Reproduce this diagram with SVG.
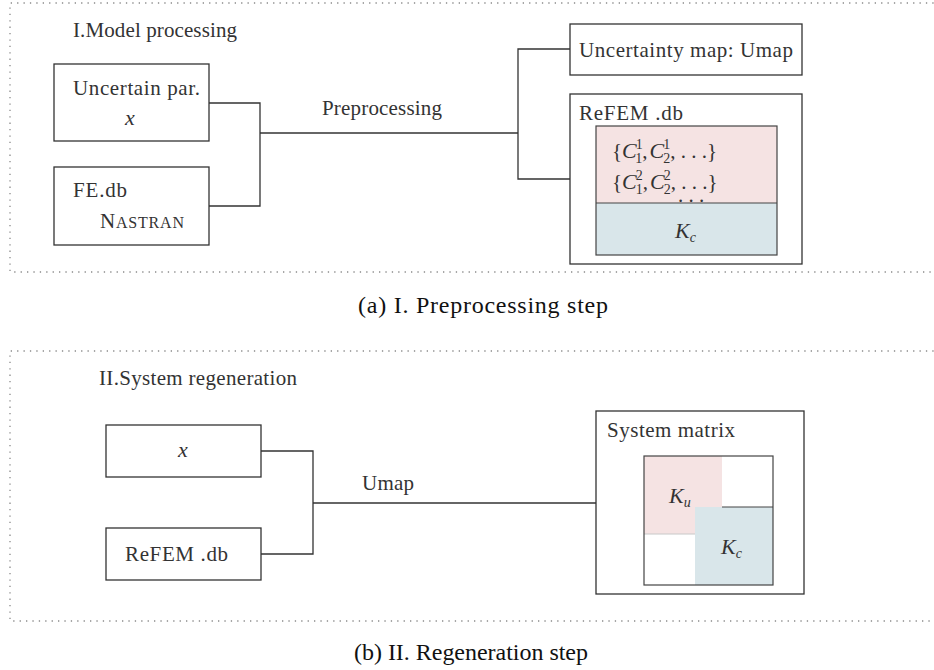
<svg xmlns="http://www.w3.org/2000/svg" width="934" height="670" viewBox="0 0 934 670">
  <style>
    .frame { fill: none; stroke: #8a8a8a; stroke-width: 1.3; stroke-dasharray: 1.3 5.1; }
    .box { fill: #ffffff; stroke: #333333; stroke-width: 1.3; }
    .wire { fill: none; stroke: #333333; stroke-width: 1.3; }
    .pink { fill: #f5e3e3; }
    .blue { fill: #d9e6ea; }
    .edge { fill: none; stroke: #444444; stroke-width: 1.2; }
    .t { font-family: "Liberation Serif", "Times New Roman", serif; font-size: 21px; fill: #333333; }
    .m { font-family: "Liberation Serif", "Times New Roman", serif; font-size: 22px; font-style: italic; fill: #333333; }
    .sub { font-size: 14px; }
    .cap { font-family: "Liberation Serif", "Times New Roman", serif; font-size: 24px; fill: #111111; }
  </style>

  <!-- Step I frame (open on the right) -->
  <path class="frame" d="M 940 3 H 10 V 272 H 940"/>
  <text class="t" x="73" y="37" textLength="164" lengthAdjust="spacing">I.Model processing</text>

  <g id="connectors">
    <!-- step I -->
    <path class="wire" d="M 209 103 H 260 V 206 H 209"/>
    <path class="wire" d="M 260 133 H 518"/>
    <path class="wire" d="M 570 49 H 518 V 179 H 570"/>
    <text class="t" x="322" y="115" textLength="120" lengthAdjust="spacing">Preprocessing</text>
    <!-- step II -->
    <path class="wire" d="M 261 451 H 313 V 554 H 261"/>
    <path class="wire" d="M 313 503 H 596"/>
    <text class="t" x="362" y="490" textLength="52" lengthAdjust="spacing">Umap</text>
  </g>

  <g id="uncertain-par">
    <rect class="box" x="54" y="64" width="155" height="77"/>
    <text class="t" x="73" y="95" textLength="127" lengthAdjust="spacing">Uncertain par.</text>
    <text class="m" x="125" y="125">x</text>
  </g>

  <g id="fe-db">
    <rect class="box" x="54" y="167" width="155" height="78"/>
    <text class="t" x="73" y="197" textLength="54" lengthAdjust="spacing">FE.db</text>
    <text class="t" x="100" y="228" textLength="84" lengthAdjust="spacing">N<tspan font-size="16">ASTRAN</tspan></text>
  </g>

  <g id="uncertainty-map">
    <rect class="box" x="570" y="24" width="232" height="51"/>
    <text class="t" x="579" y="57" textLength="214" lengthAdjust="spacing">Uncertainty map: Umap</text>
  </g>

  <g id="refem-db">
    <rect class="box" x="570" y="94" width="232" height="170"/>
    <text class="t" x="579" y="120" textLength="104" lengthAdjust="spacing">ReFEM .db</text>
    <rect class="pink" x="596" y="126" width="181" height="77"/>
    <rect class="blue" x="596" y="203" width="181" height="52"/>
    <rect class="edge" x="596" y="126" width="181" height="129"/>
    <line class="edge" x1="596" y1="203" x2="777" y2="203"/>
    <text class="t" x="612" y="158">{<tspan class="m">C</tspan><tspan class="sub" dx="-1" dy="-9">1</tspan><tspan class="sub" dx="-7" dy="14">1</tspan><tspan dy="-5">,</tspan><tspan class="m" dx="2">C</tspan><tspan class="sub" dx="-1" dy="-9">1</tspan><tspan class="sub" dx="-7" dy="14">2</tspan><tspan dy="-5">, . . .}</tspan></text>
    <text class="t" x="612" y="189">{<tspan class="m">C</tspan><tspan class="sub" dx="-1" dy="-9">2</tspan><tspan class="sub" dx="-7" dy="14">1</tspan><tspan dy="-5">,</tspan><tspan class="m" dx="2">C</tspan><tspan class="sub" dx="-1" dy="-9">2</tspan><tspan class="sub" dx="-7" dy="14">2</tspan><tspan dy="-5">, . . .}</tspan></text>
    <text class="t" x="678" y="202">. . .</text>
    <text class="m" x="675" y="238">K<tspan class="sub" dy="4">c</tspan></text>
  </g>

  <!-- Step II frame (open on the right) -->
  <path class="frame" d="M 940 351 H 10 V 621 H 940"/>
  <text class="t" x="99" y="385" textLength="198" lengthAdjust="spacing">II.System regeneration</text>

  <g id="x-input">
    <rect class="box" x="106" y="425" width="155" height="52"/>
    <text class="m" x="183" y="457" text-anchor="middle">x</text>
  </g>

  <g id="refem-db-input">
    <rect class="box" x="106" y="528" width="155" height="52"/>
    <text class="t" x="125" y="561" textLength="103" lengthAdjust="spacing">ReFEM .db</text>
  </g>

  <g id="system-matrix">
    <rect class="box" x="596" y="411" width="208" height="183"/>
    <text class="t" x="607" y="437" textLength="128" lengthAdjust="spacing">System matrix</text>
    <rect x="644" y="456" width="129" height="129" fill="#ffffff"/>
    <rect class="pink" x="644" y="456" width="78" height="78"/>
    <line x1="644" y1="534" x2="722" y2="534" stroke="#c8c8c8" stroke-width="1"/>
    <rect class="blue" x="695" y="507" width="78" height="78"/>
    <line class="edge" x1="722" y1="507" x2="773" y2="507"/>
    <rect class="edge" x="644" y="456" width="129" height="129"/>
    <text class="m" x="669" y="503">K<tspan class="sub" dy="4">u</tspan></text>
    <text class="m" x="721" y="554">K<tspan class="sub" dy="4">c</tspan></text>
  </g>

  <text class="cap" x="358" y="313" textLength="250" lengthAdjust="spacing">(a)  I. Preprocessing step</text>
  <text class="cap" x="354" y="660" textLength="234" lengthAdjust="spacing">(b)  II. Regeneration step</text>
</svg>
